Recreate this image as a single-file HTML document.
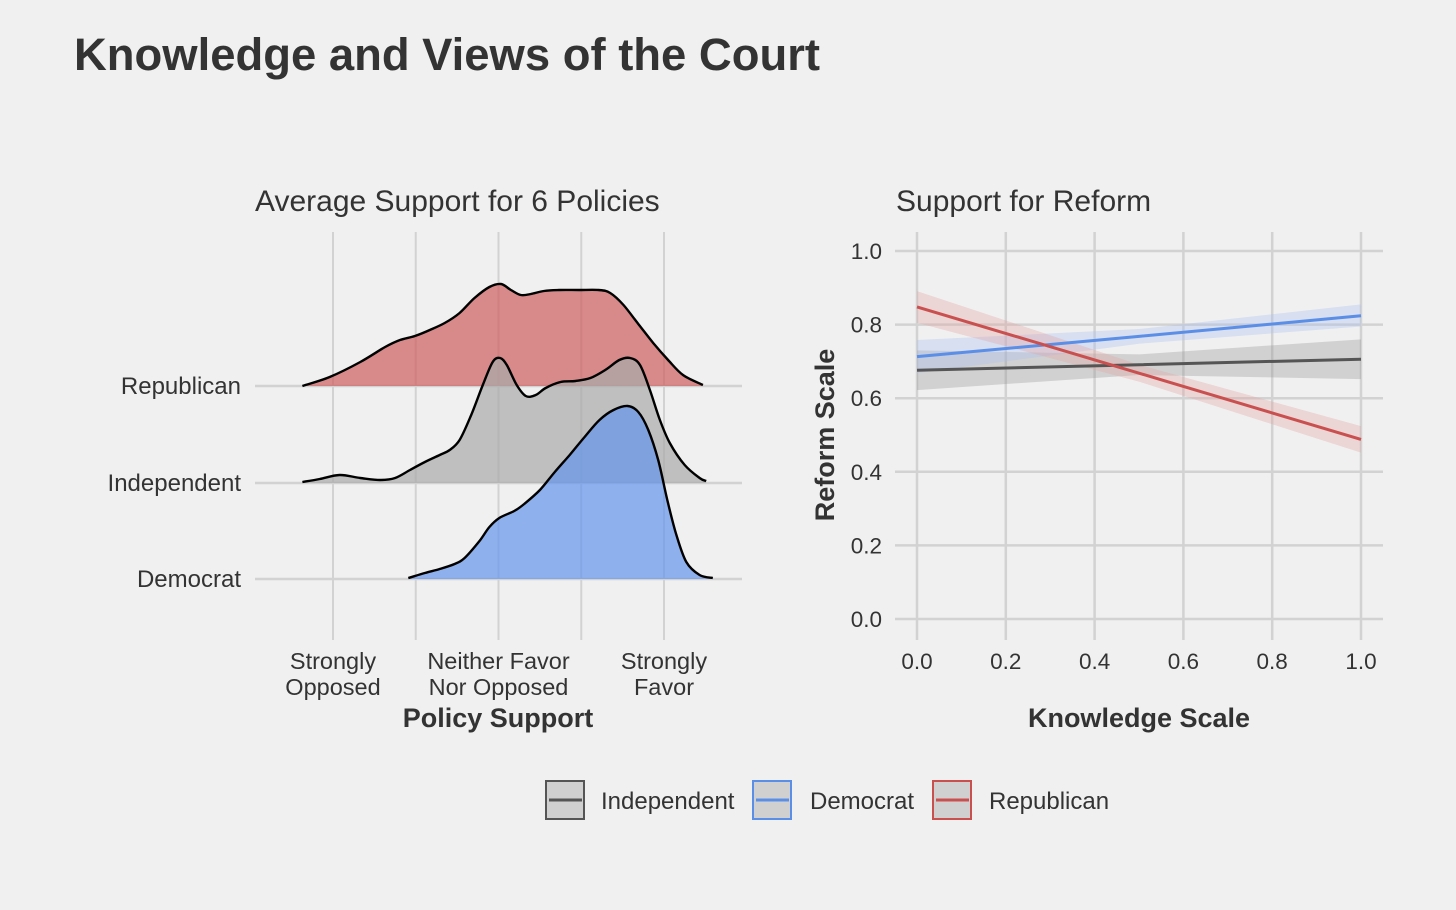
<!DOCTYPE html>
<html><head><meta charset="utf-8"><style>
html,body{margin:0;padding:0;background:#f0f0f0;}
svg{display:block;font-family:"Liberation Sans",Arial,sans-serif;}
</style></head><body>
<svg id="chart" width="1456" height="910" viewBox="0 0 1456 910">
<rect width="1456" height="910" fill="#f0f0f0"/>
<text x="74" y="70" font-size="45" font-weight="bold" fill="#333" textLength="746" lengthAdjust="spacingAndGlyphs">Knowledge and Views of the Court</text>
<g id="left"></g>
<g id="right"></g>
<g id="legend"></g>
</svg>
<script>
// ---- Ridgeline data (x on 1..5 policy scale, heights as relative density) ----
const ridgeGroups = ["Democrat","Independent","Republican"];
const ridgeXTickVals = [1,2,3,4,5];
const ridgeXTickLabels = [["Strongly","Opposed"],null,["Neither Favor","Nor Opposed"],null,["Strongly","Favor"]];
const repX = [0.63,0.96,1.33,1.63,1.81,1.99,2.17,2.35,2.53,2.71,2.89,3.03,3.15,3.27,3.39,3.55,3.73,3.97,4.21,4.35,4.51,4.69,4.87,5.05,5.23,5.47];
const repD = [0,0.09,0.24,0.39,0.46,0.50,0.56,0.63,0.73,0.88,0.99,1.02,0.96,0.91,0.92,0.95,0.96,0.96,0.96,0.93,0.81,0.62,0.43,0.26,0.11,0.01];
const indX = [0.63,0.84,1.08,1.33,1.57,1.75,1.93,2.11,2.29,2.41,2.53,2.67,2.81,2.93,3.02,3.10,3.22,3.33,3.45,3.57,3.75,3.93,4.11,4.29,4.46,4.59,4.71,4.83,4.95,5.07,5.25,5.43,5.51];
const indD = [0.01,0.04,0.08,0.05,0.03,0.05,0.13,0.21,0.28,0.33,0.43,0.68,0.98,1.21,1.25,1.18,0.98,0.87,0.88,0.95,1.01,1.02,1.05,1.13,1.23,1.25,1.18,0.93,0.63,0.40,0.18,0.05,0.02];
const demX = [1.91,2.11,2.29,2.47,2.59,2.77,2.89,3.01,3.19,3.31,3.50,3.68,3.86,4.04,4.22,4.39,4.56,4.69,4.81,4.93,5.04,5.15,5.27,5.43,5.59];
const demD = [0.01,0.06,0.10,0.15,0.21,0.38,0.52,0.61,0.68,0.75,0.89,1.07,1.24,1.42,1.59,1.69,1.73,1.67,1.49,1.19,0.79,0.44,0.17,0.04,0.01];
// ---- Regression data ----
const regXTicks = [0,0.2,0.4,0.6,0.8,1.0];
const regYTicks = [0,0.2,0.4,0.6,0.8,1.0];
const bandX = [0,0.5,1];
const indFit = [0.676,0.691,0.706];
const indLo = [0.622,0.663,0.652];
const indHi = [0.730,0.719,0.760];
const demFit = [0.713,0.768,0.824];
const demLo = [0.668,0.748,0.795];
const demHi = [0.758,0.788,0.855];
const repFit = [0.848,0.668,0.488];
const repLo = [0.805,0.645,0.452];
const repHi = [0.891,0.691,0.524];

const NS="http://www.w3.org/2000/svg";
function mk(parent,tag,attrs,txt){const e=document.createElementNS(NS,tag);for(const k in attrs)e.setAttribute(k,attrs[k]);if(txt!==undefined)e.textContent=txt;parent.appendChild(e);return e;}
function smooth(pts){let d="M"+pts[0][0]+","+pts[0][1];for(let i=0;i<pts.length-1;i++){const p0=pts[Math.max(0,i-1)],p1=pts[i],p2=pts[i+1],p3=pts[Math.min(pts.length-1,i+2)];const c1=[p1[0]+(p2[0]-p0[0])/6,p1[1]+(p2[1]-p0[1])/6],c2=[p2[0]-(p3[0]-p1[0])/6,p2[1]-(p3[1]-p1[1])/6];d+=" C"+c1[0].toFixed(1)+","+c1[1].toFixed(1)+" "+c2[0].toFixed(1)+","+c2[1].toFixed(1)+" "+p2[0].toFixed(1)+","+p2[1].toFixed(1);}return d;}

// ---- Left panel ----
const L=document.getElementById('left');
const lx=v=>333+(v-1)*82.75;
const baseY={Democrat:579,Independent:483,Republican:386};
const hScale=100;
mk(L,'text',{x:255,y:211,'font-size':30,fill:'#333',},'Average Support for 6 Policies');
ridgeXTickVals.forEach((v,i)=>{const g=mk(L,'line',{x1:lx(v),x2:lx(v),y1:232,y2:640,stroke:'#d2d2d2','stroke-width':2});
 const lab=ridgeXTickLabels[i];if(lab){const t=mk(L,'text',{x:lx(v),y:669,'font-size':23.5,fill:'#333','text-anchor':'middle'});mk(t,'tspan',{x:lx(v),dy:0},lab[0]);mk(t,'tspan',{x:lx(v),dy:26},lab[1]);}});
ridgeGroups.forEach(gn=>{const l=mk(L,'line',{x1:255,x2:742,y1:baseY[gn],y2:baseY[gn],stroke:'#d2d2d2','stroke-width':2.5});
 const t=mk(L,'text',{x:241,y:baseY[gn]+8,'font-size':24,fill:'#333','text-anchor':'end'},gn);});
const ridges=[["Republican",repX,repD,"#cd5c5c"],["Independent",indX,indD,"#aaaaaa"],["Democrat",demX,demD,"#6495ed"]];
ridges.forEach(([gn,xs,ds,col])=>{const b=baseY[gn];const pts=xs.map((x,i)=>[lx(x),b-ds[i]*hScale]);const line=smooth(pts);
 const f=mk(L,'path',{d:line+" L"+pts[pts.length-1][0]+","+b+" L"+pts[0][0]+","+b+" Z",fill:col,'fill-opacity':0.7,stroke:'none'});
 const s=mk(L,'path',{d:line,fill:'none',stroke:'#000','stroke-width':2.4});});
mk(L,'text',{x:498,y:727,'font-size':27,'font-weight':'bold',fill:'#333','text-anchor':'middle',},'Policy Support');

// ---- Right panel ----
const R=document.getElementById('right');
const rx=v=>917+v*444, ry=v=>619-v*368;
mk(R,'text',{x:896,y:211,'font-size':30,fill:'#333',},'Support for Reform');
regYTicks.forEach(v=>{const l=mk(R,'line',{x1:895,x2:1383,y1:ry(v),y2:ry(v),stroke:'#d2d2d2','stroke-width':2.5});
 const t=mk(R,'text',{x:882,y:ry(v)+8,'font-size':22.5,fill:'#333','text-anchor':'end'},v.toFixed(1));});
regXTicks.forEach(v=>{const l=mk(R,'line',{x1:rx(v),x2:rx(v),y1:232,y2:640,stroke:'#d2d2d2','stroke-width':2.5});
 const t=mk(R,'text',{x:rx(v),y:669,'font-size':22.5,fill:'#333','text-anchor':'middle'},v.toFixed(1));});
const series=[["independent",indFit,indLo,indHi,"#555555","#999999"],["democrat",demFit,demLo,demHi,"#5b8ee6","#a9c1f0"],["republican",repFit,repLo,repHi,"#c9504f","#e3a3a3"]];
series.forEach(([n,fit,lo,hi,col,bcol])=>{const up=bandX.map((x,i)=>rx(x)+","+ry(hi[i]));const dn=bandX.map((x,i)=>rx(x)+","+ry(lo[i])).reverse();
 const b=mk(R,'polygon',{points:up.concat(dn).join(" "),fill:bcol,'fill-opacity':0.35});});
series.forEach(([n,fit,lo,hi,col])=>{const p=mk(R,'polyline',{points:bandX.map((x,i)=>rx(x)+","+ry(fit[i])).join(" "),fill:'none',stroke:col,'stroke-width':3});});
mk(R,'text',{x:1139,y:727,'font-size':27,'font-weight':'bold',fill:'#333','text-anchor':'middle',},'Knowledge Scale');
mk(R,'text',{x:0,y:0,'font-size':27,'font-weight':'bold',fill:'#333','text-anchor':'middle',transform:'translate(834,435) rotate(-90)',},'Reform Scale');

// ---- Legend ----
const G=document.getElementById('legend');
const leg=[["Independent",545,601,"#555555"],["Democrat",752,810,"#5b8ee6"],["Republican",932,989,"#c9504f"]];
leg.forEach(([n,bx,tx,col])=>{const k=mk(G,'rect',{x:bx+1,y:781,width:38,height:38,fill:'#d0d0d0',stroke:col,'stroke-width':2});
 const l=mk(G,'line',{x1:bx+4,x2:bx+37,y1:800,y2:800,stroke:col,'stroke-width':3});
 const t=mk(G,'text',{x:tx,y:809,'font-size':24,fill:'#333'},n);});
</script>
</body></html>
